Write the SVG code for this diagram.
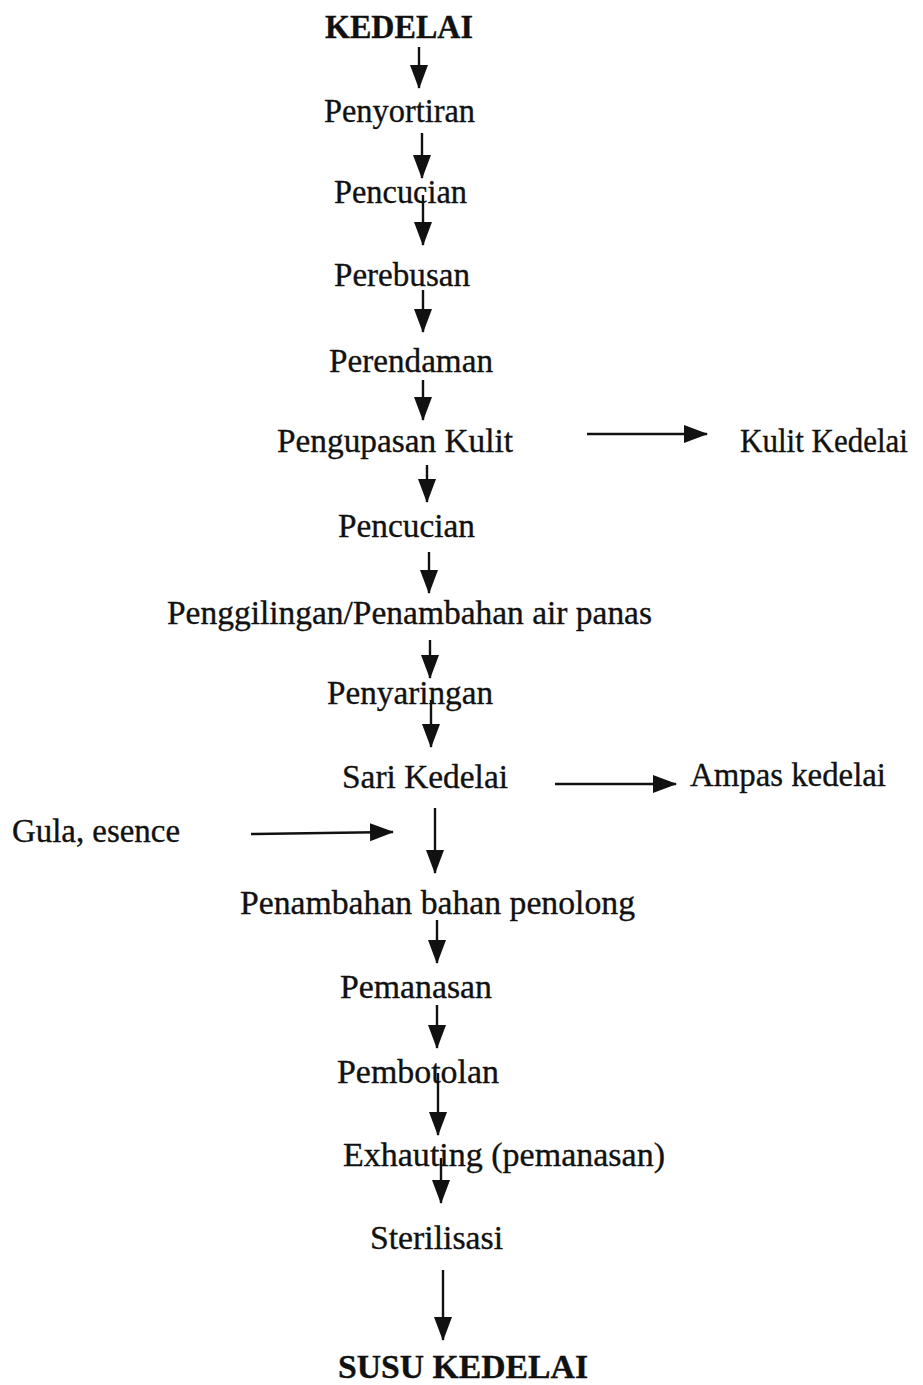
<svg xmlns="http://www.w3.org/2000/svg" width="923" height="1385" viewBox="0 0 923 1385">
<style>
text{font-family:"Liberation Serif","Times New Roman",serif;font-size:34px;fill:#111;stroke:#111;stroke-width:0.35}
.b{font-weight:bold}
.c line{stroke:#111;stroke-width:2.4;marker-end:url(#ah)}
</style>
<defs>
<marker id="ah" markerUnits="userSpaceOnUse" markerWidth="24" markerHeight="20" viewBox="0 0 24 20" refX="23" refY="10" orient="auto">
<path d="M0,1 L24,10 L0,19 Z" fill="#111"/>
</marker>
</defs>
<rect width="923" height="1385" fill="#fff"/>
<g id="n-kedelai"><text class="b" x="325" y="38" textLength="148" lengthAdjust="spacingAndGlyphs">KEDELAI</text></g>
<g id="n-penyortiran"><text x="324" y="122" textLength="151" lengthAdjust="spacingAndGlyphs">Penyortiran</text></g>
<g id="n-pencucian1"><text x="334" y="203" textLength="133" lengthAdjust="spacingAndGlyphs">Pencucian</text></g>
<g id="n-perebusan"><text x="334" y="286" textLength="136" lengthAdjust="spacingAndGlyphs">Perebusan</text></g>
<g id="n-perendaman"><text x="329" y="372" textLength="164" lengthAdjust="spacingAndGlyphs">Perendaman</text></g>
<g id="n-pengupasan"><text x="277" y="452" textLength="236" lengthAdjust="spacingAndGlyphs">Pengupasan Kulit</text></g>
<g id="n-kulit"><text x="740" y="452" textLength="168" lengthAdjust="spacingAndGlyphs">Kulit Kedelai</text></g>
<g id="n-pencucian2"><text x="338" y="537" textLength="137" lengthAdjust="spacingAndGlyphs">Pencucian</text></g>
<g id="n-penggilingan"><text x="167" y="624" textLength="485" lengthAdjust="spacingAndGlyphs">Penggilingan/Penambahan air panas</text></g>
<g id="n-penyaringan"><text x="327" y="704" textLength="166" lengthAdjust="spacingAndGlyphs">Penyaringan</text></g>
<g id="n-sari"><text x="342" y="788" textLength="166" lengthAdjust="spacingAndGlyphs">Sari Kedelai</text></g>
<g id="n-ampas"><text x="690" y="786" textLength="196" lengthAdjust="spacingAndGlyphs">Ampas kedelai</text></g>
<g id="n-gula"><text x="12" y="842" textLength="168" lengthAdjust="spacingAndGlyphs">Gula, esence</text></g>
<g id="n-penambahan"><text x="240" y="914" textLength="395" lengthAdjust="spacingAndGlyphs">Penambahan bahan penolong</text></g>
<g id="n-pemanasan"><text x="340" y="998" textLength="152" lengthAdjust="spacingAndGlyphs">Pemanasan</text></g>
<g id="n-pembotolan"><text x="337" y="1083" textLength="162" lengthAdjust="spacingAndGlyphs">Pembotolan</text></g>
<g id="n-exhauting"><text x="343" y="1166" textLength="322" lengthAdjust="spacingAndGlyphs">Exhauting (pemanasan)</text></g>
<g id="n-sterilisasi"><text x="370" y="1249" textLength="133" lengthAdjust="spacingAndGlyphs">Sterilisasi</text></g>
<g id="n-susu"><text class="b" x="338" y="1378" textLength="250" lengthAdjust="spacingAndGlyphs">SUSU KEDELAI</text></g>
<g id="connectors" class="c">
<line x1="419" y1="47" x2="419" y2="88"/>
<line x1="422" y1="133" x2="422" y2="178"/>
<line x1="423" y1="195" x2="423" y2="245"/>
<line x1="423" y1="290" x2="423" y2="332"/>
<line x1="423" y1="380" x2="423" y2="420"/>
<line x1="427" y1="465" x2="427" y2="502"/>
<line x1="429" y1="552" x2="429" y2="593"/>
<line x1="430" y1="640" x2="430" y2="678"/>
<line x1="431" y1="700" x2="431" y2="747"/>
<line x1="435" y1="808" x2="435" y2="873"/>
<line x1="437" y1="920" x2="437" y2="963"/>
<line x1="437" y1="1005" x2="437" y2="1048"/>
<line x1="438" y1="1073" x2="438" y2="1135"/>
<line x1="441" y1="1158" x2="441" y2="1203"/>
<line x1="443" y1="1270" x2="443" y2="1340"/>
<line x1="587" y1="434" x2="707" y2="434"/>
<line x1="555" y1="784" x2="676" y2="784"/>
<line x1="251" y1="834" x2="393" y2="832"/>
</g>
</svg>
